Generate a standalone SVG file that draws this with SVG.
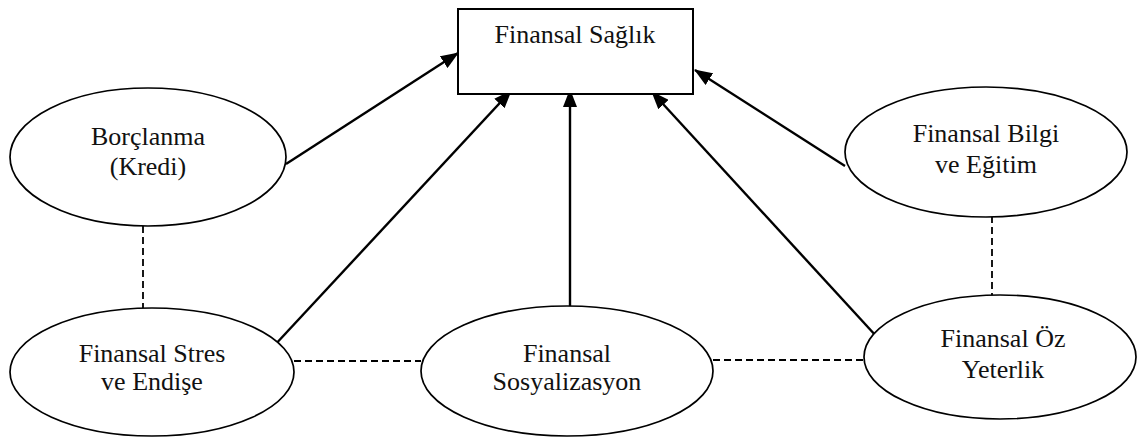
<svg xmlns="http://www.w3.org/2000/svg" width="1138" height="438" viewBox="0 0 1138 438">
<style>
.node{fill:#fff;stroke:#000;stroke-width:1.7}
.box{fill:#fff;stroke:#000;stroke-width:2}
.t{font-family:"Liberation Serif","Times New Roman",serif;font-size:26px;fill:#111;text-anchor:middle}
.arr{stroke:#000;stroke-width:2.4;fill:none;marker-end:url(#ah)}
.dash{stroke:#000;stroke-width:1.8;stroke-dasharray:7,4;fill:none}
</style>
<defs>
<marker id="ah" viewBox="0 0 18 14" refX="17" refY="7" markerWidth="18" markerHeight="14" markerUnits="userSpaceOnUse" orient="auto">
<path d="M0,0 L18,7 L0,14 z" fill="#000"/>
</marker>
</defs>
<rect width="1138" height="438" fill="#fff"/>
<g id="connectors">
<line class="arr" x1="286" y1="164" x2="458" y2="53"/>
<line class="arr" x1="273" y1="347" x2="511" y2="91"/>
<line class="arr" x1="570" y1="318" x2="570" y2="90"/>
<line class="arr" x1="877" y1="337" x2="652" y2="92"/>
<line class="arr" x1="845" y1="166" x2="695" y2="70"/>
<line class="dash" x1="143" y1="226" x2="143" y2="308"/>
<line class="dash" x1="992" y1="216" x2="992" y2="296"/>
<line class="dash" x1="294" y1="361" x2="421" y2="361"/>
<line class="dash" x1="713" y1="360" x2="865" y2="360"/>
</g>
<g id="saglik">
<rect class="box" x="458" y="9" width="235" height="85"/>
<text class="t" x="575" y="43">Finansal Sağlık</text>
</g>
<g id="borclanma">
<ellipse class="node" cx="148" cy="157" rx="138" ry="69"/>
<text class="t" x="148" y="145">Borçlanma</text>
<text class="t" x="148" y="175">(Kredi)</text>
</g>
<g id="bilgi">
<ellipse class="node" cx="986" cy="152" rx="141" ry="65"/>
<text class="t" x="986" y="142">Finansal Bilgi</text>
<text class="t" x="986" y="173">ve Eğitim</text>
</g>
<g id="stres">
<ellipse class="node" cx="152" cy="372" rx="142" ry="64"/>
<text class="t" x="152" y="362">Finansal Stres</text>
<text class="t" x="152" y="390">ve Endişe</text>
</g>
<g id="sosyalizasyon">
<ellipse class="node" cx="567" cy="371" rx="146" ry="65"/>
<text class="t" x="567" y="362">Finansal</text>
<text class="t" x="567" y="390">Sosyalizasyon</text>
</g>
<g id="ozyeterlik">
<ellipse class="node" cx="1000" cy="357" rx="136" ry="62"/>
<text class="t" x="1003" y="347">Finansal Öz</text>
<text class="t" x="1003" y="378">Yeterlik</text>
</g>
</svg>
